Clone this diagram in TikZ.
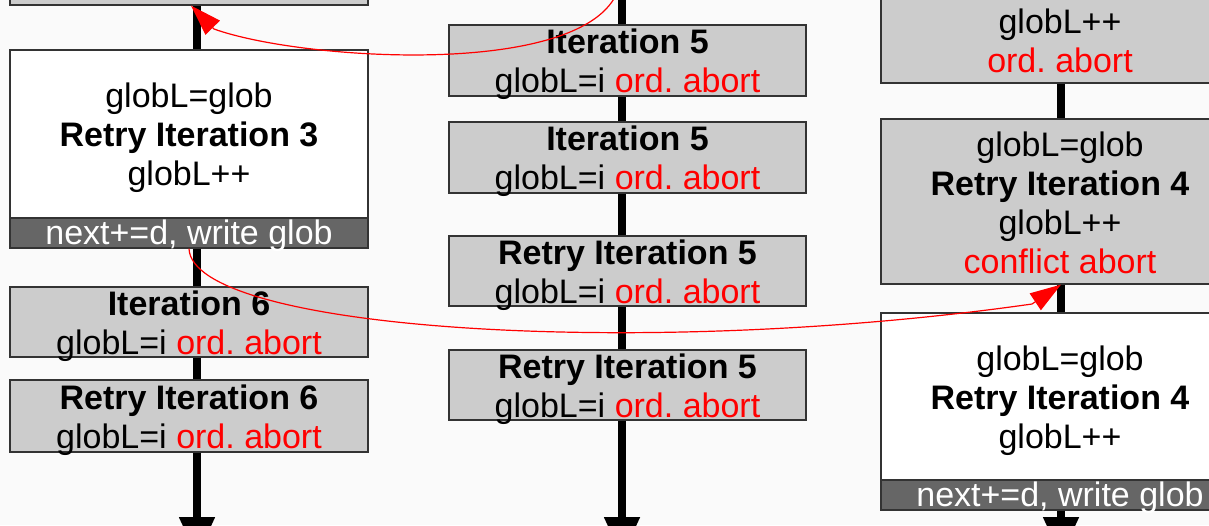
\documentclass[tikz,border=0pt]{standalone}
\usepackage{fontspec}
\setmainfont{Liberation Sans}
\usetikzlibrary{arrows.meta,calc}
\definecolor{bg}{RGB}{250,250,250}
\definecolor{boxgray}{RGB}{204,204,204}
\definecolor{bargray}{RGB}{102,102,102}
\definecolor{edge}{RGB}{51,51,51}
\frenchspacing
\begin{document}
\frenchspacing
\begin{tikzpicture}[x=1pt,y=-1pt,
  box/.style={draw=edge, line width=1.2pt, minimum width=358pt, inner sep=0pt},
  gbox/.style={box, fill=boxgray},
  wbox/.style={box, fill=white},
  txt/.style={inner sep=0pt, align=center, font=\fontsize{34}{39}\selectfont},
  dbar/.style={draw=edge, line width=1.2pt, fill=bargray, text=white,
    minimum width=358pt, minimum height=30pt, inner xsep=0pt, inner ysep=0.5pt,
    text height=26pt, text depth=3pt, font=\fontsize{34}{39}\selectfont},
  flow/.style={line width=8pt, black},
  flowend/.style={flow, -{Triangle[width=34pt,length=40pt]}},
  link/.style={red, line width=1.2pt, -{Triangle[width=20pt,length=31pt]}}]
\fill[bg] (0,0) rectangle (1209,525);
\useasboundingbox (0,0) rectangle (1209,525);
\clip (0,0) rectangle (1209,525);

% column axes
\coordinate (cL) at (197,0);
\coordinate (cM) at (622,0);
\coordinate (cR) at (1061,0);

% left column
\node[gbox, minimum height=65pt] (L0) at (189,-27.5) {};
\node[wbox, minimum height=168pt] (L1) at (189,134) {};
\node[txt] (L1t) at ([yshift=-4pt]L1.center)
  {globL=glob\\\textbf{Retry Iteration 3}\\globL++};
\node[dbar] (L1b) at (189,233) {next+=d, write glob};
\node[gbox, minimum height=70pt] (L2) at (189,322) {};
\node[txt] (L2t) at ([yshift=-4pt]L2.center)
  {\textbf{Iteration 6}\\globL=i \textcolor{red}{ord. abort}};
\node[gbox, minimum height=72pt] (L3) at (189,416) {};
\node[txt] (L3t) at ([yshift=-4pt]L3.center)
  {\textbf{Retry Iteration 6}\\globL=i \textcolor{red}{ord. abort}};

% middle column
\node[gbox, minimum width=357pt, minimum height=71pt] (M1) at (627.5,60.5) {};
\node[txt] (M1t) at ([yshift=-4pt]M1.center)
  {\textbf{Iteration 5}\\globL=i \textcolor{red}{ord. abort}};
\node[gbox, minimum width=357pt, minimum height=71pt] (M2) at (627.5,157.5) {};
\node[txt] (M2t) at ([yshift=-4pt]M2.center)
  {\textbf{Iteration 5}\\globL=i \textcolor{red}{ord. abort}};
\node[gbox, minimum width=357pt, minimum height=70pt] (M3) at (627.5,271) {};
\node[txt] (M3t) at ([yshift=-4pt]M3.center)
  {\textbf{Retry Iteration 5}\\globL=i \textcolor{red}{ord. abort}};
\node[gbox, minimum width=357pt, minimum height=70pt] (M4) at (627.5,385) {};
\node[txt] (M4t) at ([yshift=-4pt]M4.center)
  {\textbf{Retry Iteration 5}\\globL=i \textcolor{red}{ord. abort}};

% right column
\node[gbox, minimum height=88pt] (R0) at (1060,39) {};
\node[txt] (R0t) at ([yshift=-2pt]R0.center)
  {globL++\\\textcolor{red}{ord. abort}};
\node[gbox, minimum height=165pt] (R1) at (1060,201.5) {};
\node[txt] (R1t) at ([yshift=-1.5pt]R1.center)
  {globL=glob\\\textbf{Retry Iteration 4}\\globL++\\\textcolor{red}{conflict abort}};
\node[wbox, minimum height=167pt] (R2) at (1060,396.5) {};
\node[txt] (R2t) at ([yshift=-4pt]R2.center)
  {globL=glob\\\textbf{Retry Iteration 4}\\globL++};
\node[dbar] (R2b) at (1060,495) {next+=d, write glob};

% flow lines
\draw[flow] (L0.south -| cL) -- (L1.north -| cL);
\draw[flow] (L1b.south -| cL) -- (L2.north -| cL);
\draw[flow] (L2.south -| cL) -- (L3.north -| cL);
\coordinate (Lend) at (197,557);
\draw[flowend] (L3.south -| cL) -- (Lend);

\coordinate (Mtop) at (622,-10);
\draw[flow] (Mtop) -- (M1.north -| cM);
\draw[flow] (M1.south -| cM) -- (M2.north -| cM);
\draw[flow] (M2.south -| cM) -- (M3.north -| cM);
\draw[flow] (M3.south -| cM) -- (M4.north -| cM);
\coordinate (Mend) at (622,557);
\draw[flowend] (M4.south -| cM) -- (Mend);

\draw[flow] (R0.south -| cR) -- (R1.north -| cR);
\draw[flow] (R1.south -| cR) -- (R2.north -| cR);
\coordinate (Rend) at (1061,557);
\draw[flowend] (R2b.south -| cR) -- (Rend);

% red links
\coordinate (a1s) at (616,-5);
\draw[link] (a1s) .. controls (575,78) and (300,60) .. (214,29)
  -- ([xshift=2pt]L0.south);
\draw[link] (L1b.south) .. controls (192,330) and (640,360) .. (1032,304)
  -- (R1.south -| cR);
\end{tikzpicture}
\end{document}
